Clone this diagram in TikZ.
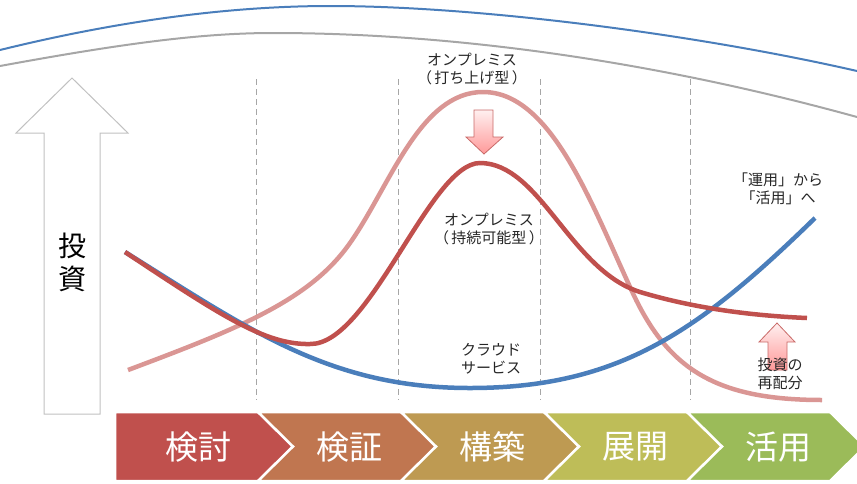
\documentclass[tikz,border=0pt]{standalone}
\usepackage{fontspec}
\newfontfamily\jp{Noto Sans CJK JP}
\definecolor{kumo}{HTML}{4A7EBB}
\definecolor{jizoku}{HTML}{C0504D}
\definecolor{uchiage}{HTML}{DA9694}
\definecolor{waku}{HTML}{A6A6A6}
\definecolor{moji}{HTML}{262626}
\definecolor{phaseA}{HTML}{C0504D}
\definecolor{phaseB}{HTML}{C07650}
\definecolor{phaseC}{HTML}{BE9A52}
\definecolor{phaseD}{HTML}{BEBD58}
\definecolor{phaseE}{HTML}{9BBB59}
\begin{document}
\begin{tikzpicture}[x=1pt,y=-1pt,
	lbl/.style={font=\jp\fontsize{15}{18}\selectfont,text=moji,align=center},
	phaselbl/.style={font=\jp\fontsize{33}{33}\selectfont,text=white},
	pinkarrow/.style={draw=jizoku!85,top color=red!6,bottom color=red!40!white,line width=0.8}]
		\useasboundingbox (0,0) rectangle (857,483);
		\clip (0,0) rectangle (857,483);
		%arcs on top
		\draw[kumo,line width=2] (0,50) .. controls (130,18) and (240,6) .. (330,6) .. controls (480,6) and (700,35) .. (857,71);
		\draw[waku,line width=2] (0,66) .. controls (120,44) and (200,33) .. (273,33) .. controls (450,33) and (650,60) .. (857,117);
		%phase lines
		\foreach \x in {256,398,540,690}
		\draw[waku,dashed,dash pattern=on 6pt off 4pt,line width=1] (\x,79)--(\x,400);
		%investment arrow
		\draw[waku!70,fill=white,line width=1] (44,414)--(44,133)--(16,133)--(72,78)--(128,133)--(100,133)--(100,414)--cycle;
		\node[font=\jp\fontsize{28}{33}\selectfont,text=black,align=center] (toushi) at (72,262) {投\\資};
		%phases
		\fill[phaseA,draw=white,line width=2.5] (115,412)--(258,412)--(293,446.5)--(258,481)--(115,481)--cycle;
		\node[phaselbl] (step0) at (198,447) {検討};
		\foreach \i/\c/\t in {1/phaseB/検証,2/phaseC/構築,3/phaseD/展開,4/phaseE/活用}{
		\fill[\c,draw=white,line width=2.5] ({115+143*\i},412)--++(143,0)--++(35,34.5)--++(-35,34.5)--++(-143,0)--++(35,-34.5)--cycle;
		\node[phaselbl] (step\i) at ({206+143*\i},447) {\t};}
		%curves
		\draw[uchiage,line width=4.5] (128,370) .. controls (240,328) and (310,300) .. (350,243) .. controls (390,186) and (420,92) .. (483,92) .. controls (550,92) and (590,200) .. (630,287) .. controls (665,365) and (710,400) .. (822,400);
		\draw[kumo,line width=4.5] (125,252) .. controls (250,330) and (330,388) .. (470,388) .. controls (620,388) and (700,330) .. (815,218);
		\draw[jizoku,line width=4.5] (125,252) .. controls (220,315) and (265,345) .. (310,344) .. controls (370,345) and (430,163) .. (480,163) .. controls (540,163) and (570,270) .. (640,292) .. controls (700,310) and (760,316) .. (807,318);
		%pink arrows
		\draw[pinkarrow] (474,110)--(493,110)--(493,137)--(503,137)--(484,154)--(466,137)--(474,137)--cycle;
		\draw[pinkarrow] (768,370)--(768,342)--(759,342)--(777,323)--(795,342)--(787,342)--(787,370)--cycle;
		%labels
		\node[lbl] (uchiagelbl) at (472,69) {オンプレミス\\（\,打ち上げ型\,）};
		\node[lbl] (jizokulbl) at (489,229) {オンプレミス\\（\,持続可能型\,）};
		\node[lbl] (kumolbl) at (491,359) {クラウド\\サービス};
		\node[lbl] (katsuyolbl) at (778,189) {「運用」から\\「活用」へ};
		\node[lbl] (haibunlbl) at (780,374) {投資の\\再配分};
\end{tikzpicture}
\end{document}
